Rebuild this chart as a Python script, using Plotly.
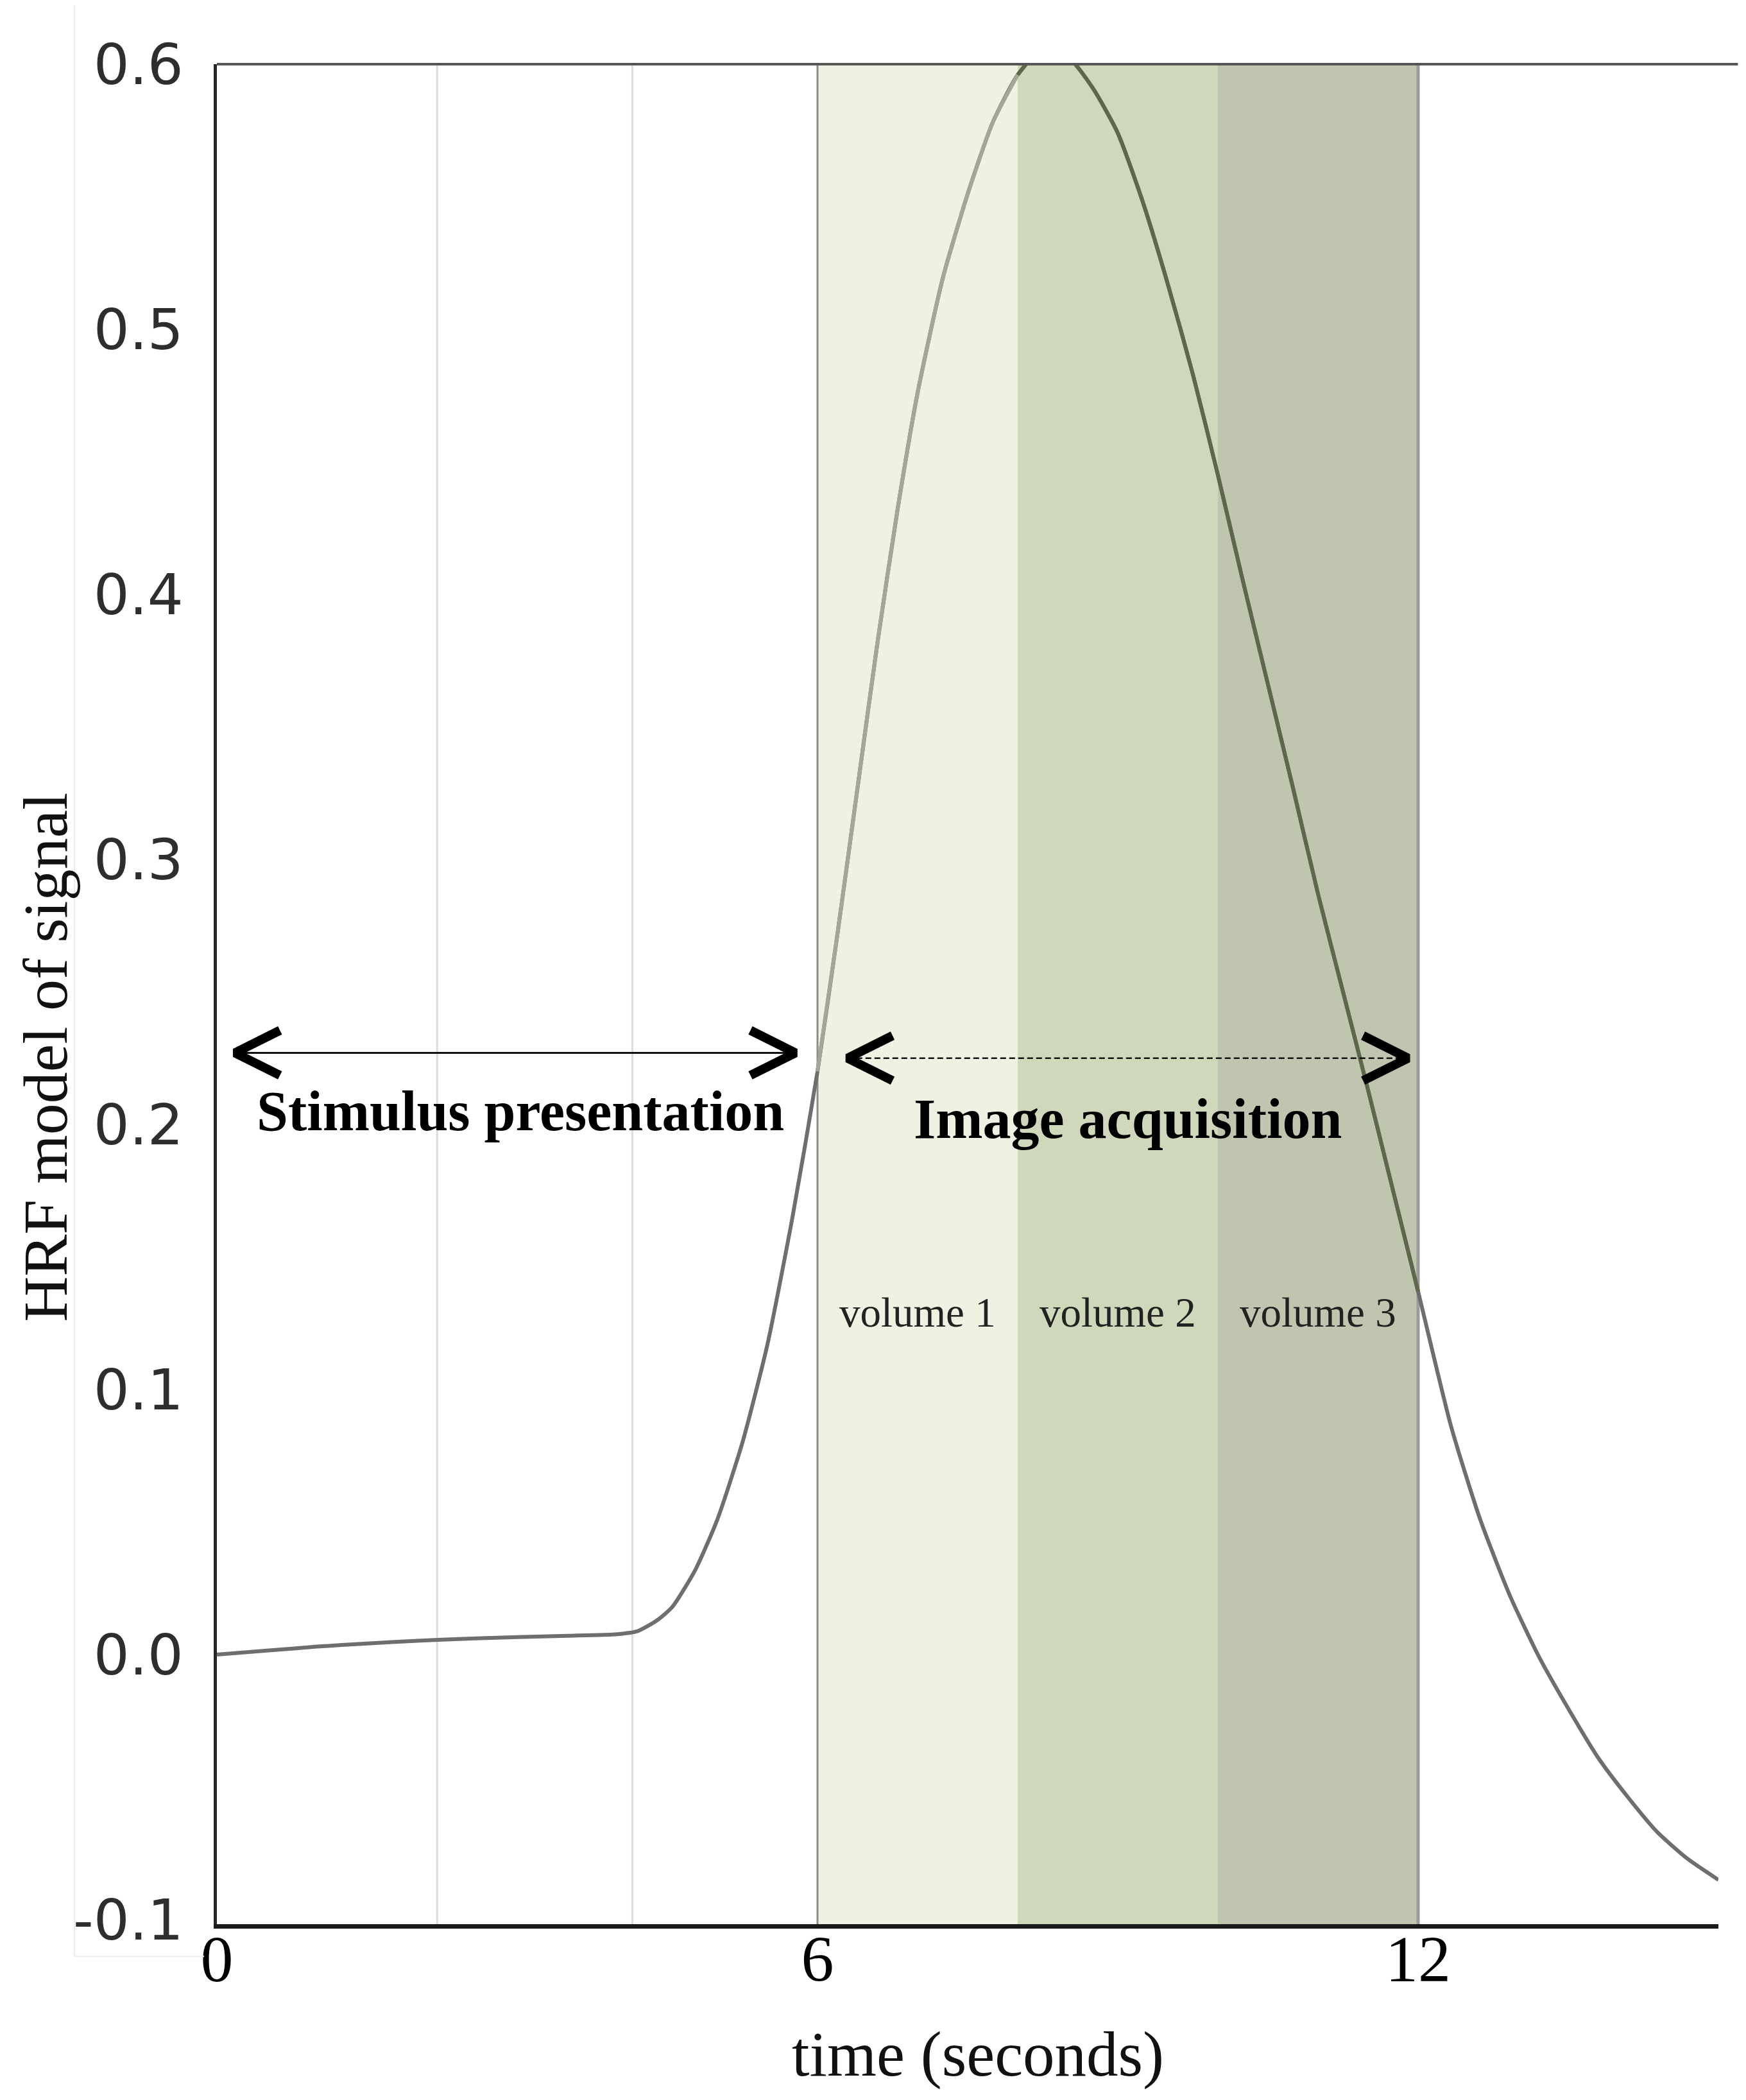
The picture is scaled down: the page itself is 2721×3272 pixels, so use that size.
import plotly.graph_objects as go

# HRF curve (time in seconds, model signal)
time_s = [0.0, 0.5, 1.0, 1.5, 2.0, 2.5, 3.0, 3.5, 4.0, 4.2, 4.4, 4.55, 4.78, 5.0,
          5.25, 5.5, 5.75, 6.0, 6.2, 6.4, 6.6, 6.8, 7.0, 7.25, 7.5, 7.75, 8.0,
          8.25, 8.5, 8.75, 9.0, 9.25, 9.5, 9.75, 10.0, 10.25, 10.5, 10.75, 11.0,
          11.25, 11.5, 11.75, 12.0, 12.33, 12.62, 12.92, 13.21, 13.51, 13.8,
          14.1, 14.39, 14.69, 15.0]
hrf = [0.0, 0.0015, 0.003, 0.0042, 0.0052, 0.006, 0.0066, 0.0071, 0.0077, 0.0088,
       0.013, 0.018, 0.032, 0.051, 0.080, 0.117, 0.165, 0.22, 0.272, 0.327, 0.382,
       0.432, 0.476, 0.519, 0.551, 0.578, 0.596, 0.606, 0.603, 0.591, 0.574,
       0.548, 0.517, 0.483, 0.445, 0.405, 0.366, 0.327, 0.287, 0.250, 0.213,
       0.175, 0.137, 0.086, 0.051, 0.022, -0.001, -0.021, -0.039, -0.054,
       -0.067, -0.077, -0.085]

y_ticks = [-0.1, 0.0, 0.1, 0.2, 0.3, 0.4, 0.5, 0.6]
y_tick_text = ['-0.1', '0.0', '0.1', '0.2', '0.3', '0.4', '0.5', '0.6']
x_ticks = [0, 6, 12]
x_tick_text = ['0', '6', '12']

volume_names = ['volume 1', 'volume 2', 'volume 3']
volume_start = [6, 8, 10]
volume_end = [8, 10, 12]
volume_colors = ['#eef2e3', '#d0d8bb', '#c0c5af']
volume_label_y = 0.129

grid_t = [2.2, 4.15]

stim_arrow = [0.18, 5.78]
stim_y = 0.227
stim_label = [3.03, 0.205]
acq_arrow = [6.3, 11.9]
acq_y = 0.225
acq_label = [9.1, 0.202]

HEAD_DX = 0.45
HEAD_DY = 0.0085

SERIF = 'Liberation Serif'


def chevron(tip_x, y, direction):
    back = tip_x - direction * HEAD_DX
    return [back, tip_x, back], [y + HEAD_DY, y, y - HEAD_DY]


fig = go.Figure()

# shaded acquisition volumes
for start, end, col in zip(volume_start, volume_end, volume_colors):
    fig.add_shape(type='rect', xref='x', yref='paper', x0=start, x1=end, y0=0, y1=1,
                  fillcolor=col, line_width=0, layer='below')

for g in grid_t:
    fig.add_shape(type='line', xref='x', yref='paper', x0=g, x1=g, y0=0, y1=1,
                  line=dict(color='#dcdcdc', width=3), layer='below')

# edges of the acquisition window
fig.add_shape(type='line', xref='x', yref='paper', x0=volume_start[0], x1=volume_start[0],
              y0=0, y1=1, line=dict(color='#8c8c8c', width=3), layer='below')
fig.add_shape(type='line', xref='x', yref='paper', x0=volume_end[-1], x1=volume_end[-1],
              y0=0, y1=1, line=dict(color='#9a9a9a', width=5), layer='below')

# top border
fig.add_shape(type='line', xref='paper', yref='paper', x0=0, x1=1.013, y0=1, y1=1,
              line=dict(color='#555555', width=4))

# faint frame left over from the screenshot
fig.add_shape(type='line', xref='paper', yref='paper', x0=-0.0949, x1=-0.0949,
              y0=-0.0173, y1=1.032, line=dict(color='#ececec', width=2))
fig.add_shape(type='line', xref='paper', yref='paper', x0=-0.0949, x1=-0.0085,
              y0=-0.0173, y1=-0.0173, line=dict(color='#ececec', width=2))

# the HRF curve, tinted where it crosses the shaded volumes
curve_style = dict(width=6, shape='spline', smoothing=0.6)
fig.add_trace(go.Scatter(x=time_s, y=hrf, mode='lines',
                         line=dict(color='#6e6e6e', **curve_style)))
pairs = list(zip(time_s, hrf))
seg1 = [p for p in pairs if volume_start[0] <= p[0] <= volume_end[0]]
seg2 = [p for p in pairs if volume_start[1] <= p[0] <= volume_end[-1]]
fig.add_trace(go.Scatter(x=[p[0] for p in seg1], y=[p[1] for p in seg1], mode='lines',
                         line=dict(color='#a2a798', **curve_style)))
fig.add_trace(go.Scatter(x=[p[0] for p in seg2], y=[p[1] for p in seg2], mode='lines',
                         line=dict(color='#5e6749', **curve_style)))

# arrows
fig.add_trace(go.Scatter(x=stim_arrow, y=[stim_y, stim_y], mode='lines',
                         line=dict(color='#111111', width=3)))
fig.add_trace(go.Scatter(x=acq_arrow, y=[acq_y, acq_y], mode='lines',
                         line=dict(color='#111111', width=2.5, dash='9px,5px')))
for arrow, ay in [(stim_arrow, stim_y), (acq_arrow, acq_y)]:
    for tip, d in [(arrow[0], -1), (arrow[1], 1)]:
        cx, cy = chevron(tip, ay, d)
        fig.add_trace(go.Scatter(x=cx, y=cy, mode='lines',
                                 line=dict(color='#000000', width=14)))

fig.add_annotation(x=stim_label[0], y=stim_label[1],
                   text='<b>Stimulus presentation</b>', showarrow=False,
                   xanchor='center', yanchor='middle',
                   font=dict(family=SERIF, size=88, color='#000000'))
fig.add_annotation(x=acq_label[0], y=acq_label[1],
                   text='<b>Image acquisition</b>', showarrow=False,
                   xanchor='center', yanchor='middle',
                   font=dict(family=SERIF, size=88, color='#000000'))
for name, start, end in zip(volume_names, volume_start, volume_end):
    fig.add_annotation(x=(start + end) / 2, y=volume_label_y, text=name, showarrow=False,
                       xanchor='center', yanchor='middle',
                       font=dict(family=SERIF, size=65, color='#222222'))

# axis titles
fig.add_annotation(xref='paper', yref='paper', x=-0.1145, y=0.466, text='HRF model of signal',
                   textangle=-90, showarrow=False, xanchor='center', yanchor='middle',
                   font=dict(family=SERIF, size=98, color='#111111'))
fig.add_annotation(xref='paper', yref='paper', x=0.507, y=-0.070, text='time (seconds)',
                   showarrow=False, xanchor='center', yanchor='middle',
                   font=dict(family=SERIF, size=99, color='#111111'))

fig.update_layout(
    width=2721, height=3272,
    margin=dict(l=330, r=51, t=92, b=282),
    paper_bgcolor='white', plot_bgcolor='white',
    showlegend=False,
)
fig.update_xaxes(range=[0, 15], tickvals=x_ticks, ticktext=x_tick_text,
                 showgrid=False, zeroline=False, showline=True,
                 linecolor='#1a1a1a', linewidth=7, ticks='',
                 ticklabelstandoff=-40,
                 tickfont=dict(family=SERIF, size=102, color='#000000'))
fig.update_yaxes(range=[-0.1017, 0.6], tickvals=y_ticks, ticktext=y_tick_text,
                 showgrid=False, zeroline=False, showline=True,
                 linecolor='#262626', linewidth=4.5, ticks='',
                 ticklabelstandoff=30,
                 tickfont=dict(family='DejaVu Sans', size=88, color='#2e2e2e'))

fig.write_html('out.html')
